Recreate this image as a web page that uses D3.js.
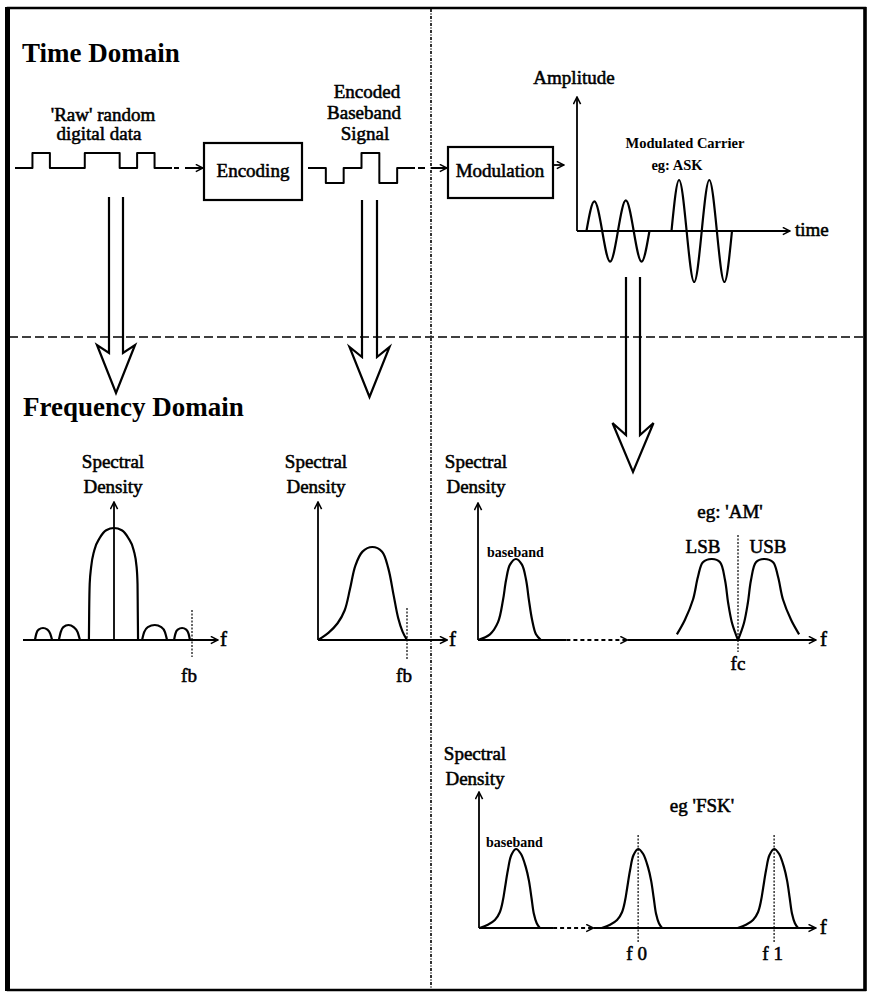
<!DOCTYPE html>
<html><head><meta charset="utf-8">
<script src="https://cdn.jsdelivr.net/npm/d3@7"></script>
<style>
body{margin:0;background:#fff}
svg{display:block}
text{font-family:"Liberation Serif","Times New Roman",serif;fill:#000}
</style>
</head><body>
<svg id="c" width="872" height="992"></svg>
<script>
// ---------------- data ----------------
const sectionTitles = ["Time Domain", "Frequency Domain"];
const rawLabel = ["'Raw' random", "digital data"];
const encodedLabel = ["Encoded", "Baseband", "Signal"];
const blockLabels = ["Encoding", "Modulation"];
const askLabels = ["Amplitude", "time", "Modulated Carrier", "eg: ASK"];
const spectralLabel = ["Spectral", "Density"];

// time-domain signals
const rawBits = [0, 1, 0, 0, 1, 1, 0, 1, 0];
const encodedLevels = [0, -1, 0, 1, -1, 0];
const askLow = [[0.3,0],[0.55,0.58],[0.8,0],[1.05,-0.6],[1.3,0],[1.55,0.6],[1.8,0],[2.05,-0.6],[2.3,0]];
const askHigh = [[3.0,0],[3.24,1],[3.48,0],[3.72,-1],[3.96,0],[4.2,1],[4.44,0],[4.68,-1],[4.92,0]];

// spectra: [frequency, spectral density]
const sincLobes = [
  [[-3.04,0],[-2.99,0.055],[-2.9,0.092],[-2.73,0.107],[-2.56,0.092],[-2.45,0.055],[-2.38,0]],
  [[-2.12,0],[-2.05,0.07],[-1.95,0.115],[-1.75,0.134],[-1.55,0.115],[-1.4,0.07],[-1.31,0]],
  [[-0.965,0],[-0.955,0.25],[-0.935,0.5],[-0.88,0.65],[-0.76,0.8],[-0.55,0.91],[-0.3,0.98],[0,1],
   [0.3,0.98],[0.55,0.91],[0.76,0.8],[0.87,0.65],[0.905,0.5],[0.915,0.25],[0.925,0]],
  [[1.08,0],[1.16,0.07],[1.3,0.115],[1.57,0.134],[1.82,0.115],[1.96,0.07],[2.04,0]],
  [[2.31,0],[2.36,0.055],[2.45,0.092],[2.62,0.107],[2.78,0.092],[2.87,0.055],[2.92,0]]
];
const encodedSpectrum = [[0,0],[0.12,0.08],[0.22,0.18],[0.3,0.32],[0.36,0.55],[0.42,0.8],[0.5,0.95],
  [0.61,1],[0.72,0.95],[0.79,0.77],[0.85,0.48],[0.9,0.24],[0.95,0.09],[1,0]];
const amBaseband = [[0,0],[0.46,0.07],[0.77,0.22],[0.96,0.49],[1.08,0.74],[1.23,0.93],[1.46,1],
  [1.69,0.93],[1.85,0.74],[1.96,0.49],[2.08,0.25],[2.23,0.07],[2.42,0]];
const amLSB = [[7.65,0.07],[7.96,0.25],[8.27,0.5],[8.46,0.78],[8.65,0.96],[9.0,1],[9.31,0.96],
  [9.5,0.74],[9.62,0.46],[9.77,0.21],[10,0]];
const amUSB = [[10,0],[10.23,0.21],[10.38,0.46],[10.5,0.74],[10.69,0.96],[11.0,1],[11.35,0.96],
  [11.54,0.78],[11.73,0.5],[12.04,0.25],[12.35,0.07]];
const fskHump = [[-1.4,0],[-1.08,0.04],[-0.81,0.1],[-0.62,0.2],[-0.5,0.35],[-0.42,0.51],[-0.31,0.73],
  [-0.18,0.92],[0,1],[0.19,0.94],[0.38,0.77],[0.5,0.6],[0.6,0.38],[0.69,0.18],[0.8,0.06],[0.92,0]];
const fskPeaks = [1.42, 6.12, 11.35];

// frequency markers
const fbA = 3, fbB = 1, fcAM = 10;
const markLabels = ["fb", "fb", "fc", "f0", "f1"];
const spectrumNotes = ["baseband", "eg: 'AM'", "LSB", "USB", "eg 'FSK'", "f"];

// ---------------- drawing ----------------
const svg = d3.select("#c");
const defs = svg.append("defs");
defs.append("marker").attr("id","arr").attr("viewBox","0 0 10 10")
  .attr("refX",9).attr("refY",5).attr("markerWidth",9).attr("markerHeight",9)
  .attr("markerUnits","userSpaceOnUse").attr("orient","auto")
  .append("path").attr("d","M1,1 L9,5 L1,9").attr("fill","none")
  .attr("stroke","#000").attr("stroke-width",1.7).attr("stroke-dasharray","none");

function txt(x, y, s, o = {}) {
  const t = svg.append("text").attr("x", x).attr("y", y).text(s)
    .attr("font-size", o.size || 19).attr("text-anchor", o.anchor || "middle");
  if (o.bold) t.attr("font-weight", "bold");
  else t.attr("stroke", "#000").attr("stroke-width", o.sw == null ? 0.55 : o.sw);
  if (o.ls) t.attr("letter-spacing", o.ls);
  return t;
}
function seg(x1, y1, x2, y2, o = {}) {
  const l = svg.append("line").attr("x1", x1).attr("y1", y1).attr("x2", x2).attr("y2", y2)
    .attr("stroke", "#000").attr("stroke-width", o.w || 1.8);
  if (o.dash) l.attr("stroke-dasharray", o.dash);
  if (o.arrow) l.attr("marker-end", "url(#arr)");
  return l;
}
function curve(data, x, y, c, w) {
  svg.append("path").datum(data).attr("fill", "none").attr("stroke", "#000")
    .attr("stroke-width", w || 2.2).attr("stroke-linejoin", "round")
    .attr("d", d3.line().x(d => x(d[0])).y(d => y(d[1])).curve(c || d3.curveMonotoneX));
}
const smooth = d3.curveCatmullRom.alpha(0.5);

// frame and dividers
svg.append("rect").attr("x", 8).attr("y", 8).attr("width", 857).attr("height", 982)
  .attr("fill", "none").attr("stroke", "#000").attr("stroke-width", 2.5);
seg(7.5, 7, 7.5, 991, { w: 5 });
seg(865, 7, 865, 991, { w: 3.5 });
seg(431, 9, 431, 989, { w: 1.6, dash: "3,1.5,1,1.5" });
seg(9, 337, 864, 337, { w: 1.5, dash: "9,4" });

// titles
txt(22, 62, sectionTitles[0], { bold: true, size: 27, anchor: "start" });
txt(23, 416, sectionTitles[1], { bold: true, size: 27, anchor: "start" });

// raw data
txt(103, 121, rawLabel[0]); txt(99, 140, rawLabel[1]);
const xR = d3.scaleLinear().domain([0, 9]).range([15, 172]);
const yR = d3.scaleLinear().domain([0, 1]).range([168, 153]);
const rawPts = rawBits.map((b, i) => [i, b]).concat([[rawBits.length, rawBits[rawBits.length - 1]]]);
curve(rawPts, xR, yR, d3.curveStepAfter, 2);
seg(174, 168, 203, 168, { w: 1.8, dash: "5,6,40", arrow: true });

// encoding block
svg.append("rect").attr("x", 204).attr("y", 143).attr("width", 98).attr("height", 57)
  .attr("fill", "none").attr("stroke", "#000").attr("stroke-width", 2.2);
txt(253, 177, blockLabels[0]);

// encoded signal
txt(367, 98, encodedLabel[0]); txt(364, 119, encodedLabel[1]); txt(365, 140, encodedLabel[2]);
const xE = d3.scaleLinear().domain([0, 6]).range([308, 415]);
const yE = d3.scaleLinear().domain([-1, 1]).range([183, 153]);
const encPts = encodedLevels.map((b, i) => [i, b]).concat([[encodedLevels.length, encodedLevels[encodedLevels.length - 1]]]);
curve(encPts, xE, yE, d3.curveStepAfter, 2);
seg(418, 168, 447, 168, { w: 1.8, dash: "7,6,40", arrow: true });

// modulation block
svg.append("rect").attr("x", 448).attr("y", 147).attr("width", 105).attr("height", 51)
  .attr("fill", "none").attr("stroke", "#000").attr("stroke-width", 2.2);
txt(500, 177, blockLabels[1]);
seg(553, 165, 564, 165, { w: 1.8, arrow: true });

// ASK waveform
const xT = d3.scaleLinear().domain([0, 1]).range([577, 608.5]);
const yT = d3.scaleLinear().domain([-1, 1]).range([282, 180]);
seg(xT(0), yT(0), xT(0), 97, { w: 1.8, arrow: true });
seg(xT(0), yT(0), 790, yT(0), { w: 1.8, arrow: true });
txt(574, 84, askLabels[0]);
txt(795, 236, askLabels[1], { anchor: "start" });
txt(685, 148, askLabels[2], { bold: true, size: 14.5 });
txt(677, 170, askLabels[3], { bold: true, size: 14.5 });
curve(askLow, xT, yT, d3.curveNatural, 2.2);
curve(askHigh, xT, yT, d3.curveNatural, 2.2);

// hollow arrows
function hollowArrow(cx, top, sb, hw, ww, wy, tip) {
  svg.append("path").attr("fill", "none").attr("stroke", "#000").attr("stroke-width", 2.2)
    .attr("stroke-linejoin", "miter")
    .attr("d", `M${cx - hw},${top} L${cx - hw},${sb} L${cx - ww},${wy} L${cx},${tip} L${cx + ww},${wy} L${cx + hw},${sb} L${cx + hw},${top}`);
}
hollowArrow(116, 197, 353, 7, 19, 345, 393);
hollowArrow(369.5, 200, 357, 7.5, 20, 347, 397);
hollowArrow(633, 277, 435, 7, 20.5, 423, 472);

// ---- spectrum A: raw data (sinc-like) ----
const xA = d3.scaleLinear().domain([0, 1]).range([114, 140]);
const yA = d3.scaleLinear().domain([0, 1]).range([640, 528]);
seg(xA(-3.5), yA(0), xA(4.0), yA(0), { w: 1.8, arrow: true });
seg(xA(0), yA(0), xA(0), 502, { w: 1.8, arrow: true });
sincLobes.forEach(l => curve(l, xA, yA, d3.curveMonotoneX, 2.2));
seg(xA(fbA), 610, xA(fbA), 657, { w: 1.2, dash: "2,1.5" });
txt(xA(fbA) - 3, 682, markLabels[0]);
txt(xA(4.0) + 2, 646, spectrumNotes[5], { size: 21, anchor: "start" });
txt(xA(0) - 1, 468, spectralLabel[0]); txt(xA(0) - 1, 493, spectralLabel[1]);

// ---- spectrum B: encoded baseband ----
const xB = d3.scaleLinear().domain([0, 1]).range([318, 407]);
const yB = d3.scaleLinear().domain([0, 1]).range([640, 547]);
seg(xB(0), yB(0), xB(1.45), yB(0), { w: 1.8, arrow: true });
seg(xB(0), yB(0), xB(0), 502, { w: 1.8, arrow: true });
curve(encodedSpectrum, xB, yB, smooth, 2.2);
seg(xB(fbB), 608, xB(fbB), 660, { w: 1.2, dash: "2,1.5" });
txt(xB(fbB) - 3, 682, markLabels[1]);
txt(xB(1.45) + 2, 646, spectrumNotes[5], { size: 21, anchor: "start" });
txt(xB(0) - 2, 468, spectralLabel[0]); txt(xB(0) - 2, 493, spectralLabel[1]);

// ---- spectrum C: AM ----
const xC = d3.scaleLinear().domain([0, 1]).range([478, 504]);
const yC = d3.scaleLinear().domain([0, 1]).range([640, 559]);
seg(xC(0), yC(0), xC(3.4), yC(0), { w: 1.8 });
seg(xC(3.4), yC(0), xC(5.75), yC(0), { w: 1.8, dash: "4,3", arrow: true });
seg(xC(5.75), yC(0), xC(13.0), yC(0), { w: 1.8, arrow: true });
seg(xC(0), yC(0), xC(0), 503, { w: 1.8, arrow: true });
curve(amBaseband, xC, yC, smooth);
curve(amLSB, xC, yC, smooth);
curve(amUSB, xC, yC, smooth);
seg(xC(fcAM), 535, xC(fcAM), 652, { w: 1.2, dash: "2,1.5" });
txt(xC(fcAM), 670, markLabels[2]);
txt(xC(13.0) + 4, 646, spectrumNotes[5], { size: 21, anchor: "start" });
txt(xC(0) - 2, 468, spectralLabel[0]); txt(xC(0) - 2, 493, spectralLabel[1]);
txt(487, 557, spectrumNotes[0], { bold: true, size: 14, anchor: "start" });
txt(730, 518, spectrumNotes[1]);
txt(703, 553, spectrumNotes[2]);
txt(768, 553, spectrumNotes[3]);

// ---- spectrum D: FSK ----
const xD = d3.scaleLinear().domain([0, 1]).range([479, 505]);
const yD = d3.scaleLinear().domain([0, 1]).range([928, 849]);
seg(xD(0), yD(0), xD(2.85), yD(0), { w: 1.8 });
seg(xD(2.85), yD(0), xD(4.4), yD(0), { w: 1.8, dash: "4,3", arrow: true });
seg(xD(4.4), yD(0), xD(12.95), yD(0), { w: 1.8, arrow: true });
seg(xD(0), yD(0), xD(0), 792, { w: 1.8, arrow: true });
fskPeaks.forEach(p => curve(fskHump.map(d => [p + d[0], d[1]]).filter(d => d[0] >= 0), xD, yD, smooth));
[fskPeaks[1], fskPeaks[2]].forEach((p, i) => {
  seg(xD(p), 835, xD(p), 943, { w: 1.2, dash: "2,1.5" });
  txt(xD(p) + 1, 960, markLabels[3 + i], { ls: 5 });
});
txt(xD(12.95) + 4, 934, spectrumNotes[5], { size: 21, anchor: "start" });
txt(xD(0) - 4, 760, spectralLabel[0]); txt(xD(0) - 4, 785, spectralLabel[1]);
txt(486, 847, spectrumNotes[0], { bold: true, size: 14, anchor: "start" });
txt(702, 812, spectrumNotes[4]);
</script>
</body></html>
